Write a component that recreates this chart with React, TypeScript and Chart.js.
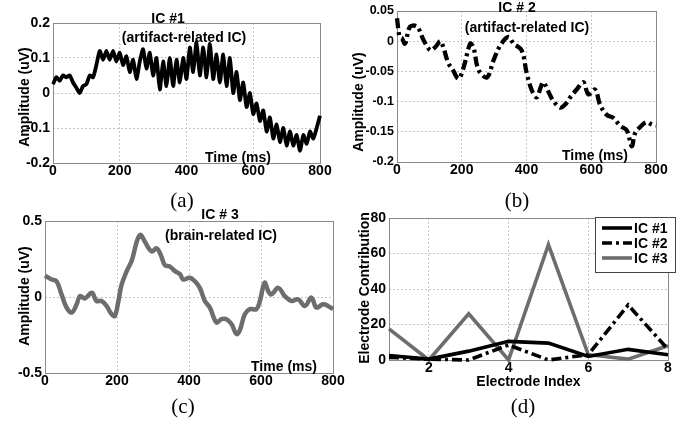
import React, { useEffect, useRef } from "react";
import { Chart, registerables } from "chart.js";

Chart.register(...registerables);

// ---------- DATA ----------
// (a) IC #1, artifact-related
const timeA = [0, 10, 20, 30, 40, 50, 60, 70, 80, 90, 100, 110, 120, 130, 140, 150, 160, 170, 180, 190, 200, 210, 220, 230, 240, 250, 260, 270, 280, 290, 300, 310, 320, 330, 340, 350, 360, 370, 380, 390, 400, 410, 420, 430, 440, 450, 460, 470, 480, 490, 500, 510, 520, 530, 540, 550, 560, 570, 580, 590, 600, 610, 620, 630, 640, 650, 660, 670, 680, 690, 700, 710, 720, 730, 740, 750, 760, 770, 780, 790, 800];
const ampA = [0.025, 0.045, 0.035, 0.05, 0.045, 0.05, 0.03, 0.015, 0.0, 0.02, 0.025, 0.05, 0.045, 0.08, 0.12, 0.095, 0.12, 0.095, 0.12, 0.09, 0.115, 0.08, 0.105, 0.06, 0.095, 0.04, 0.09, 0.125, 0.07, 0.115, 0.05, 0.1, 0.01, 0.09, 0.02, 0.1, 0.02, 0.095, 0.03, 0.1, 0.04, 0.13, 0.06, 0.145, 0.05, 0.13, 0.045, 0.14, 0.04, 0.11, 0.03, 0.11, 0.02, 0.1, 0.0, 0.06, -0.02, 0.03, -0.04, 0.0, -0.06, -0.03, -0.08, -0.05, -0.11, -0.07, -0.13, -0.09, -0.14, -0.1, -0.15, -0.11, -0.15, -0.12, -0.165, -0.12, -0.145, -0.11, -0.13, -0.1, -0.065];
const yTicksA = [-0.2, -0.1, 0, 0.1, 0.2];

// (b) IC #2, artifact-related
const timeB = [0, 8, 15, 25, 40, 62, 82, 103, 118, 134, 144, 159, 170, 190, 206, 226, 236, 252, 278, 298, 319, 344, 360, 385, 401, 417, 432, 444, 452, 468, 483, 504, 519, 535, 555, 576, 591, 612, 627, 648, 668, 689, 710, 725, 735, 751, 771, 787, 800];
const ampB = [0.038, 0.007, 0.005, -0.004, 0.024, 0.024, 0.002, -0.015, -0.01, 0.0, -0.012, -0.037, -0.045, -0.062, -0.043, -0.004, -0.01, -0.048, -0.06, -0.032, -0.007, 0.007, -0.004, -0.015, -0.054, -0.082, -0.093, -0.076, -0.068, -0.084, -0.099, -0.11, -0.105, -0.093, -0.08, -0.068, -0.088, -0.08, -0.105, -0.122, -0.127, -0.14, -0.148, -0.174, -0.153, -0.142, -0.134, -0.138, -0.14];
const yTicksB = [-0.2, -0.15, -0.1, -0.05, 0, 0.05];

// (c) IC #3, brain-related
const timeC = [0, 19, 32, 46, 60, 74, 88, 97, 111, 130, 143, 157, 171, 185, 194, 204, 213, 227, 241, 255, 265, 277, 296, 310, 321, 333, 347, 361, 375, 384, 402, 416, 430, 444, 458, 476, 490, 504, 518, 532, 541, 555, 569, 587, 597, 610, 620, 629, 648, 666, 685, 703, 722, 740, 754, 772, 786, 800];
const ampC = [0.14, 0.115, 0.104, 0.017, -0.07, -0.102, -0.048, 0.006, -0.009, 0.028, -0.026, -0.026, -0.059, -0.113, -0.124, -0.026, 0.083, 0.17, 0.24, 0.365, 0.41, 0.365, 0.3, 0.32, 0.28, 0.21, 0.2, 0.17, 0.15, 0.115, 0.126, 0.104, 0.06, -0.026, -0.07, -0.167, -0.146, -0.146, -0.178, -0.243, -0.22, -0.113, -0.08, -0.08, -0.026, 0.093, 0.039, 0.017, 0.06, 0.006, -0.026, -0.015, -0.059, -0.004, -0.07, -0.048, -0.059, -0.08];
const yTicksC = [-0.5, 0, 0.5];

const timeTicks = [0, 200, 400, 600, 800];

// (d) electrode contributions
const electrodes = [1, 2, 3, 4, 5, 6, 7, 8];
const contribIC1 = [2.5, 0.5, 5, 10.5, 9.5, 2, 6, 3];
const contribIC2 = [1.5, 0.5, 0, 8.5, 0, 3, 31, 6];
const contribIC3 = [17.5, 0, 26, 0, 65, 3, 0.5, 8];
const electrodeTicks = [2, 4, 6, 8];
const contribTicks = [0, 20, 40, 60, 80];
const seriesNames = ["IC #1", "IC #2", "IC #3"];

// ---------- STYLE ----------
const FAMILY = "'Liberation Sans', Arial, sans-serif";
const FONT = { family: FAMILY, size: 14, weight: "bold" as const };
const FONT_SMALL = { family: FAMILY, size: 12.5, weight: "bold" as const };
const GRID = "#c4c4c4";
const GRAY = "#6d6d6d";
const DASHDOT = [10, 4, 3, 4];

const decor = {
  id: "decor",
  beforeDatasetsDraw(chart: any) {
    const { ctx, chartArea: a } = chart;
    ctx.save();
    ctx.strokeStyle = "#8a8a8a";
    ctx.lineWidth = 1;
    ctx.setLineDash([]);
    ctx.strokeRect(Math.round(a.left) + 0.5, Math.round(a.top) + 0.5, Math.round(a.right - a.left), Math.round(a.bottom - a.top));
    ctx.restore();
  },
  afterDraw(chart: any) {
    const opts = chart.options.plugins.decor || {};
    const { ctx } = chart;
    ctx.save();
    ctx.font = `bold 14px ${FAMILY}`;
    ctx.fillStyle = "#000";
    ctx.textAlign = "center";
    ctx.textBaseline = "middle";
    (opts.texts || []).forEach((t: any) => {
      if (t.rot) {
        ctx.save();
        ctx.translate(t.x, t.y);
        ctx.rotate(-Math.PI / 2);
        ctx.fillText(t.text, 0, 0);
        ctx.restore();
      } else {
        ctx.fillText(t.text, t.x, t.y);
      }
    });
    const lg = opts.legend;
    if (lg) {
      ctx.fillStyle = "#fff";
      ctx.fillRect(lg.x, lg.y, lg.w, lg.h);
      ctx.strokeStyle = "#444";
      ctx.lineWidth = 1;
      ctx.strokeRect(lg.x + 0.5, lg.y + 0.5, lg.w, lg.h);
      chart.data.datasets.forEach((ds: any, i: number) => {
        const y = lg.y + lg.row0 + i * lg.rowH;
        ctx.beginPath();
        ctx.strokeStyle = ds.borderColor;
        ctx.lineWidth = ds.borderWidth;
        ctx.setLineDash(ds.borderDash || []);
        ctx.moveTo(lg.x + 7, y);
        ctx.lineTo(lg.x + 37, y);
        ctx.stroke();
        ctx.setLineDash([]);
        ctx.fillStyle = "#000";
        ctx.textAlign = "left";
        ctx.fillText(ds.label, lg.x + 39, y + 1);
      });
    }
    ctx.restore();
  },
};

function fixedTicks(list: number[]) {
  return (s: any) => {
    s.ticks = list.map((v) => ({ value: v }));
  };
}

function makeScales(p: any) {
  return {
    x: {
      type: "linear",
      min: p.xMin,
      max: p.xMax,
      afterBuildTicks: fixedTicks(p.xTicks),
      afterFit: (s: any) => {
        s.height = p.xH;
      },
      grid: { color: GRID, lineWidth: 1, drawTicks: false },
      border: { display: false, dash: [2, 2] },
      ticks: { font: FONT, color: "#000", padding: 0, maxRotation: 0, autoSkip: false, callback: (v: any) => String(v) },
      title: p.xTitle
        ? { display: true, text: p.xTitle, font: FONT, color: "#000", padding: { top: 0, bottom: p.xTitlePad } }
        : { display: false },
    },
    y: {
      type: "linear",
      min: p.yMin,
      max: p.yMax,
      afterBuildTicks: fixedTicks(p.yTicks),
      afterFit: (s: any) => {
        s.width = p.yW;
      },
      grid: { color: GRID, lineWidth: 1, drawTicks: false },
      border: { display: false, dash: [2, 2] },
      ticks: { font: p.yFont || FONT, color: "#000", padding: 3, autoSkip: false, callback: (v: any) => String(v) },
      title: { display: false },
    },
  };
}

function xy(xs: number[], ys: number[]) {
  return xs.map((x, i) => ({ x, y: ys[i] }));
}

function baseConfig(datasets: any[], scales: any, padding: any, decorOpts: any) {
  return {
    type: "line",
    data: { datasets },
    options: {
      responsive: false,
      animation: false,
      devicePixelRatio: 1,
      layout: { padding },
      scales,
      elements: { point: { radius: 0 } },
      plugins: { legend: { display: false }, tooltip: { enabled: false }, title: { display: false }, decor: decorOpts },
    },
    plugins: [decor],
  };
}

const configA = () =>
  baseConfig(
    [{ label: "IC #1", data: xy(timeA, ampA), borderColor: "#000", borderWidth: 3.8, tension: 0.2, clip: false, borderJoinStyle: "round" }],
    makeScales({ xMin: 0, xMax: 800, xTicks: timeTicks, yMin: -0.2, yMax: 0.2, yTicks: yTicksA, yW: 53, xH: 22 }),
    { top: 23, right: 20, left: 0, bottom: 0 },
    {
      texts: [
        { text: "IC #1", x: 168, y: 19 },
        { text: "(artifact-related IC)", x: 184, y: 38 },
        { text: "Time (ms)", x: 238, y: 158 },
        { text: "Amplitude (uV)", x: 25, y: 97, rot: true },
      ],
    }
  );

const configB = () =>
  baseConfig(
    [{ label: "IC #2", data: xy(timeB, ampB), borderColor: "#000", borderWidth: 4.3, borderDash: DASHDOT, tension: 0.35, clip: false }],
    makeScales({ xMin: 0, xMax: 800, xTicks: timeTicks, yMin: -0.2, yMax: 0.05, yTicks: yTicksB, yW: 47, xH: 23, yFont: FONT_SMALL }),
    { top: 11, right: 34, left: 0, bottom: 0 },
    {
      texts: [
        { text: "IC # 2", x: 167, y: 8 },
        { text: "(artifact-related IC)", x: 177, y: 28 },
        { text: "Time (ms)", x: 245, y: 156 },
        { text: "Amplitude (uV)", x: 9, y: 102, rot: true },
      ],
    }
  );

const configC = () =>
  baseConfig(
    [{ label: "IC #3", data: xy(timeC, ampC), borderColor: GRAY, borderWidth: 4.5, tension: 0.4, clip: false }],
    makeScales({ xMin: 0, xMax: 800, xTicks: timeTicks, yMin: -0.5, yMax: 0.5, yTicks: yTicksC, yW: 45, xH: 27 }),
    { top: 21, right: 17, left: 0, bottom: 0 },
    {
      texts: [
        { text: "IC # 3", x: 220, y: 15.5 },
        { text: "(brain-related IC)", x: 221, y: 36 },
        { text: "Time (ms)", x: 284, y: 167 },
        { text: "Amplitude (uV)", x: 25, y: 96, rot: true },
      ],
    }
  );

const configD = () =>
  baseConfig(
    [
      { label: seriesNames[0], data: xy(electrodes, contribIC1), borderColor: "#000", borderWidth: 3.6, clip: false },
      { label: seriesNames[1], data: xy(electrodes, contribIC2), borderColor: "#000", borderWidth: 3.6, borderDash: DASHDOT, clip: false },
      { label: seriesNames[2], data: xy(electrodes, contribIC3), borderColor: GRAY, borderWidth: 3.6, clip: false },
    ],
    makeScales({ xMin: 1, xMax: 8, xTicks: electrodeTicks, yMin: 0, yMax: 80, yTicks: contribTicks, yW: 39, xH: 35, xTitle: "Electrode Index", xTitlePad: 4.6 }),
    { top: 13, right: 27, left: 0, bottom: 0 },
    {
      texts: [{ text: "Electrode Contribution", x: 15, y: 83, rot: true }],
      legend: { x: 245, y: 12, w: 80, h: 55, row0: 11, rowH: 15 },
    }
  );

function Panel({ left, top, width, height, make }: any) {
  const ref = useRef<HTMLCanvasElement | null>(null);
  useEffect(() => {
    if (!ref.current) return;
    const chart = new Chart(ref.current, make());
    return () => chart.destroy();
  }, []);
  return (
    <div style={{ position: "absolute", left, top, width, height }}>
      <canvas ref={ref} width={width} height={height} style={{ width, height, display: "block" }} />
    </div>
  );
}

function Caption({ x, y, text }: any) {
  return (
    <div
      style={{
        position: "absolute",
        left: x - 30,
        top: y - 12,
        width: 60,
        lineHeight: "24px",
        textAlign: "center",
        fontFamily: "'Liberation Serif', 'Times New Roman', serif",
        fontSize: 21,
        color: "#000",
      }}
    >
      {text}
    </div>
  );
}

export default function App() {
  return (
    <div style={{ position: "absolute", left: 0, top: 0, width: 700, height: 421, background: "#fff", overflow: "hidden" }}>
      <Panel left={0} top={0} width={340} height={185} make={configA} />
      <Panel left={350} top={0} width={340} height={185} make={configB} />
      <Panel left={0} top={200} width={350} height={200} make={configC} />
      <Panel left={350} top={205} width={345} height={190} make={configD} />
      <Caption x={182} y={200} text="(a)" />
      <Caption x={517} y={200} text="(b)" />
      <Caption x={183} y={406} text="(c)" />
      <Caption x={523} y={406} text="(d)" />
    </div>
  );
}
